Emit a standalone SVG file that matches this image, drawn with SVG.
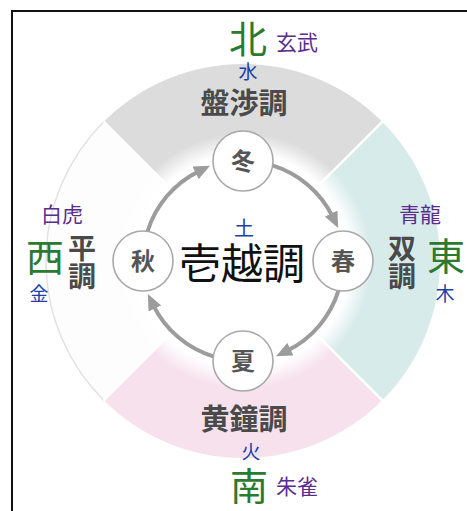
<svg xmlns="http://www.w3.org/2000/svg" width="467" height="511" viewBox="0 0 467 511">
<style>
text{font-family:"Noto Sans CJK JP","Noto Sans CJK SC",sans-serif;text-anchor:middle}
.dir{fill:#2a7a30;font-size:38px}
.god{fill:#5a2d8c;font-size:21px}
.elem{fill:#1c3fa8;font-size:19px}
.mode{fill:#4a4a4a;font-size:29px;font-weight:700}
.vert{writing-mode:vertical-rl;font-size:28px}
.season{fill:#555;font-size:24px;font-weight:700}
.sc{fill:#fff;stroke:#a8a8a8;stroke-width:1.6}
.arc{fill:none;stroke:#9c9c9c;stroke-width:4;marker-end:url(#ah)}
</style>
<defs>
<radialGradient id="fade" cx="243" cy="261" r="128" gradientUnits="userSpaceOnUse">
<stop offset="0.84" stop-color="#fff" stop-opacity="1"/>
<stop offset="1" stop-color="#fff" stop-opacity="0"/>
</radialGradient>
<marker id="ah" viewBox="0 0 16 14" markerWidth="16" markerHeight="14" refX="4" refY="7" orient="auto" markerUnits="userSpaceOnUse">
<path d="M0,0 L16,7 L0,14 Z" fill="#9c9c9c"/>
</marker>
</defs>
<rect width="467" height="511" fill="#fff"/>
<path d="M12,511 V11 H467" fill="none" stroke="#111" stroke-width="2"/>
<g id="ring">
<path d="M243,261 L103.7,121.7 A197,197 0 0 1 382.3,121.7 Z" fill="#dcdcdc"/>
<path d="M243,261 L382.3,121.7 A197,197 0 0 1 382.3,400.3 Z" fill="#d8ebeb"/>
<path d="M243,261 L382.3,400.3 A197,197 0 0 1 103.7,400.3 Z" fill="#f7e1ec"/>
<path d="M243,261 L103.7,400.3 A197,197 0 0 1 103.7,121.7 Z" fill="#fdfdfd"/>
<path d="M103.7,400.3 A197,197 0 0 1 103.7,121.7" fill="none" stroke="#e2e2e2" stroke-width="1.5"/>
<path d="M103.7,121.7 L382.3,400.3 M382.3,121.7 L103.7,400.3" stroke="#fff" stroke-width="2.5"/>
<circle cx="243" cy="261" r="128" fill="url(#fade)"/>
</g>
<g id="connectors">
<path class="arc" d="M147.4,231.8 A100,100 0 0 1 199.2,171.1"/>
<path class="arc" d="M272.2,165.4 A100,100 0 0 1 332.9,217.2"/>
<path class="arc" d="M338.6,290.2 A100,100 0 0 1 286.8,350.9"/>
<path class="arc" d="M213.8,356.6 A100,100 0 0 1 153.1,304.8"/>
</g>
<g id="winter"><circle class="sc" cx="243" cy="161" r="30"/><text class="season" x="243" y="170">冬</text></g>
<g id="spring"><circle class="sc" cx="343" cy="261" r="30"/><text class="season" x="343" y="270">春</text></g>
<g id="summer"><circle class="sc" cx="243" cy="361" r="30"/><text class="season" x="243" y="370">夏</text></g>
<g id="autumn"><circle class="sc" cx="143" cy="261" r="30"/><text class="season" x="143" y="270">秋</text></g>
<g id="center">
<text class="elem" x="244" y="236" style="font-size:20px">土</text>
<text x="242" y="279" style="font-size:42px;fill:#111">壱越調</text>
</g>
<g id="north">
<text class="dir" x="248" y="53">北</text>
<text class="god" x="297" y="50">玄武</text>
<text class="elem" x="248" y="79">水</text>
<text class="mode" x="244" y="114">盤渉調</text>
</g>
<g id="east">
<text class="god" x="420" y="222">青龍</text>
<text class="mode vert" x="402" y="262">双調</text>
<text class="dir" x="446" y="270">東</text>
<text class="elem" x="445" y="301">木</text>
</g>
<g id="south">
<text class="mode" x="244" y="430">黄鐘調</text>
<text class="elem" x="251" y="459">火</text>
<text class="dir" x="249" y="500">南</text>
<text class="god" x="297" y="494">朱雀</text>
</g>
<g id="west">
<text class="god" x="62" y="222">白虎</text>
<text class="dir" x="45" y="271">西</text>
<text class="elem" x="39" y="301">金</text>
<text class="mode vert" x="82" y="262">平調</text>
</g>
</svg>
